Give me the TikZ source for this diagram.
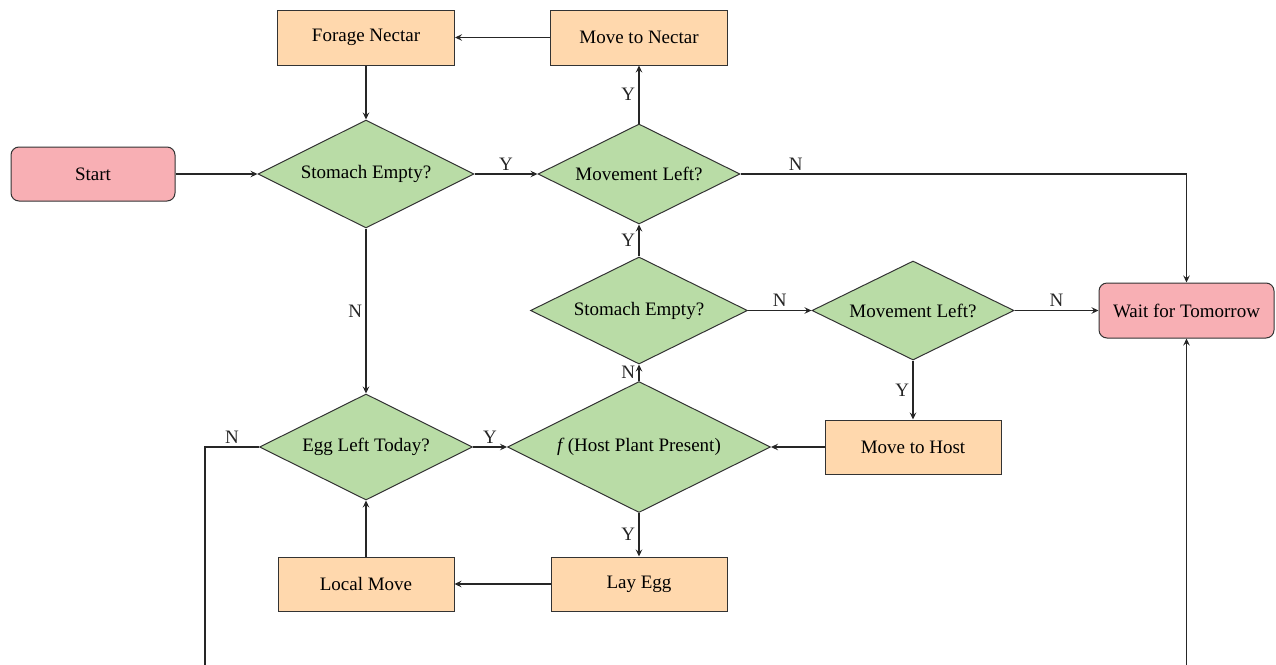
\documentclass[tikz,border=0pt]{standalone}
\usepackage{fontspec}
\setmainfont{Liberation Serif}
\usetikzlibrary{shapes.geometric,calc,arrows.meta}
\definecolor{termpink}{RGB}{248,175,180}
\definecolor{decgreen}{RGB}{185,220,166}
\definecolor{procorange}{RGB}{255,216,173}
\begin{document}
\begin{tikzpicture}[x=1pt,y=-1pt,
  base/.style={draw=black!80, line width=1pt, font=\fontsize{19}{23}\selectfont},
  term/.style={base, rounded corners=8pt, fill=termpink, minimum width=164pt, minimum height=54pt},
  proc/.style={base, fill=procorange, minimum width=177pt, minimum height=55pt},
  dec/.style={base, diamond, fill=decgreen, inner sep=0pt, aspect=2},
  conn/.style={-{Stealth[length=7pt,width=6.5pt,inset=2.5pt]}, line width=1.3pt, draw=black!85},
  lab/.style={font=\fontsize{19}{23}\selectfont, text=black!85}]
\useasboundingbox (0,0) rectangle (1276,664);
% nodes
\node[term] (start) at (93,174) {Start};
\node[dec, minimum width=216pt, minimum height=108pt] (se1) at (366,174) {Stomach Empty?};
\node[dec, minimum width=202pt, minimum height=100pt] (ml1) at (639,174) {Movement Left?};
\node[proc] (forage) at (366,37.5) {Forage Nectar};
\node[proc] (mnectar) at (639,37.5) {Move to Nectar};
\node[term, minimum width=175pt, minimum height=55pt] (wait) at (1186.5,310.5) {Wait for Tomorrow};
\node[dec, minimum width=217pt, minimum height=107pt] (se2) at (639,310.5) {Stomach Empty?};
\node[dec, minimum width=202pt, minimum height=99pt] (ml2) at (913,310.5) {Movement Left?};
\node[dec, minimum width=213pt, minimum height=106pt] (egg) at (366,447) {Egg Left Today?};
\node[dec, minimum width=263pt, minimum height=131pt] (host) at (639,447) {\textit{f}\,(Host Plant Present)};
\node[proc, minimum width=176pt, minimum height=54pt] (mhost) at (913,447) {Move to Host};
\node[proc, minimum width=176pt, minimum height=54pt] (local) at (366,584) {Local Move};
\node[proc, minimum width=176pt, minimum height=54pt] (lay) at (639,584) {Lay Egg};
\coordinate (c1) at (205,447);
\coordinate (c2) at (205,720);
% connectors
\draw[conn] (start) -- (se1);
\draw[conn] (se1) -- node[lab, above] {Y} (ml1);
\draw[conn] (ml1) -- node[lab, left] {Y} (mnectar);
\draw[conn] (mnectar) -- (forage);
\draw[conn] (forage) -- (se1);
\draw[conn] (ml1.east) -| node[lab, above, pos=0.062] {N} (wait.north);
\draw[conn] (se1) -- node[lab, left] {N} (egg);
\draw[conn] (egg) -- node[lab, above] {Y} (host);
\draw[conn] (host) -- node[lab, left] {N} (se2);
\draw[conn] (host) -- node[lab, left] {Y} (lay);
\draw[conn] (lay) -- (local);
\draw[conn] (local) -- (egg);
\draw[conn] (se2) -- node[lab, left] {Y} (ml1);
\draw[conn] (se2) -- node[lab, above] {N} (ml2);
\draw[conn] (ml2) -- node[lab, above] {N} (wait);
\draw[conn] (ml2) -- node[lab, left] {Y} (mhost);
\draw[conn] (mhost) -- (host);
\draw[conn] (egg.west) -- node[lab, above] {N} (c1) -- (c2) -| (wait.south);
\end{tikzpicture}
\end{document}
